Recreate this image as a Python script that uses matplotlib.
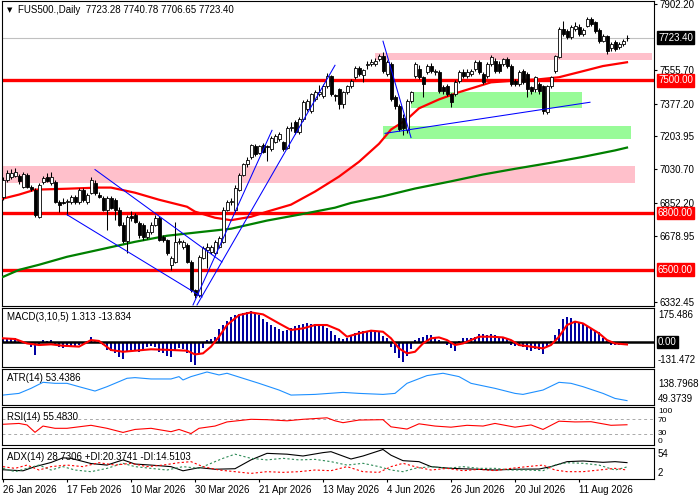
import numpy as np
import matplotlib.pyplot as plt
from matplotlib.patches import Rectangle

plt.rcParams['font.family'] = ['Liberation Sans', 'DejaVu Sans']
plt.rcParams['font.size'] = 7

# daily candles, bar 0 = 26 Jan 2026
opens = [6886, 6976, 6992, 6997, 6997, 6939, 7003, 6939, 6923, 6781,
         6966, 6992, 6960, 6966, 6860, 6860, 6857, 6860, 6886, 6860,
         6923, 6860, 6907, 6960, 6897, 6881, 6818, 6881, 6870, 6818,
         6738, 6650, 6786, 6791, 6749, 6738, 6675, 6701, 6738, 6775,
         6675, 6659, 6527, 6543, 6648, 6622, 6632, 6543, 6394, 6368,
         6563, 6606, 6595, 6590, 6622, 6648, 6818, 6860, 6815, 6923,
         7003, 7056, 7093, 7151, 7119, 7161, 7151, 7135, 7177, 7188,
         7172, 7145, 7246, 7278, 7225, 7294, 7347, 7336, 7399, 7426,
         7415, 7468, 7521, 7421, 7452, 7373, 7437, 7468, 7516, 7563,
         7527, 7580, 7585, 7585, 7611, 7627, 7532, 7585, 7410, 7363,
         7300, 7240, 7389, 7521, 7558, 7516, 7543, 7574, 7543, 7543,
         7463, 7468, 7426, 7426, 7495, 7543, 7521, 7532, 7558, 7595,
         7532, 7521, 7585, 7601, 7585, 7585, 7611, 7574, 7495, 7479,
         7548, 7532, 7463, 7452, 7479, 7468, 7331, 7468, 7548, 7622,
         7770, 7759, 7727, 7770, 7780, 7743, 7786, 7823, 7807, 7764,
         7706, 7733, 7669, 7700, 7675, 7690, 7723.28]
highs = [6990, 7025, 7030, 7035, 7008, 7015, 7010, 6950, 6930, 6960,
         6995, 7010, 7015, 6975, 6870, 6880, 6875, 6895, 6895, 6930,
         6930, 6905, 6990, 6975, 6910, 6890, 6890, 6890, 6880, 6830,
         6750, 6790, 6810, 6800, 6760, 6745, 6715, 6750, 6790, 6785,
         6685, 6665, 6575, 6750, 6670, 6660, 6640, 6550, 6400, 6580,
         6625, 6640, 6630, 6660, 6680, 6830, 6870, 6880, 6945, 7010,
         7065, 7095, 7165, 7165, 7160, 7170, 7160, 7205, 7215, 7225,
         7180, 7260, 7280, 7290, 7305, 7395, 7400, 7435, 7450, 7475,
         7480, 7540, 7530, 7430, 7460, 7445, 7475, 7505, 7575, 7575,
         7560, 7600, 7610, 7615, 7640, 7650, 7605, 7595, 7420, 7375,
         7320, 7400, 7445, 7595, 7580, 7525, 7585, 7590, 7560, 7555,
         7475, 7480, 7435, 7500, 7555, 7560, 7560, 7560, 7605, 7605,
         7545, 7595, 7635, 7615, 7600, 7620, 7625, 7585, 7505, 7555,
         7560, 7545, 7470, 7525, 7490, 7475, 7475, 7525, 7635, 7780,
         7812, 7770, 7790, 7805, 7795, 7775, 7835, 7835, 7815, 7775,
         7745, 7740, 7700, 7710, 7700, 7715, 7740.78]
lows = [6870, 6965, 6980, 6988, 6955, 6930, 6930, 6915, 6780, 6775,
        6955, 6965, 6950, 6855, 6807, 6845, 6791, 6850, 6850, 6850,
        6860, 6850, 6900, 6895, 6880, 6810, 6712, 6820, 6765, 6730,
        6640, 6590, 6760, 6745, 6670, 6660, 6665, 6690, 6730, 6650,
        6645, 6580, 6500, 6535, 6635, 6610, 6535, 6385, 6352, 6355,
        6555, 6510, 6585, 6580, 6615, 6640, 6810, 6840, 6805, 6915,
        6995, 7045, 7085, 7100, 7110, 7115, 7072, 7125, 7170, 7180,
        7125, 7135, 7235, 7215, 7215, 7285, 7340, 7325, 7390, 7415,
        7405, 7460, 7415, 7390, 7350, 7355, 7430, 7460, 7505, 7520,
        7490, 7560, 7575, 7575, 7600, 7540, 7520, 7390, 7350, 7230,
        7209, 7220, 7380, 7510, 7505, 7410, 7535, 7540, 7530, 7435,
        7430, 7415, 7357, 7415, 7485, 7510, 7510, 7520, 7550, 7535,
        7480, 7510, 7575, 7540, 7540, 7575, 7565, 7470, 7470, 7470,
        7480, 7410, 7430, 7440, 7430, 7320, 7320, 7460, 7540, 7615,
        7735, 7715, 7720, 7760, 7735, 7735, 7780, 7785, 7750, 7695,
        7700, 7640, 7655, 7655, 7665, 7680, 7706.65]
closes = [6976, 7013, 7013, 7018, 6971, 7008, 6939, 6928, 6791, 6950,
          6987, 6971, 6992, 6860, 6844, 6854, 6862, 6886, 6860, 6923,
          6870, 6897, 6976, 6907, 6886, 6818, 6881, 6828, 6818, 6738,
          6650, 6780, 6775, 6754, 6685, 6675, 6701, 6738, 6775, 6659,
          6659, 6590, 6563, 6648, 6653, 6648, 6543, 6394, 6368, 6569,
          6616, 6622, 6622, 6648, 6670, 6818, 6860, 6865, 6934, 7003,
          7056, 7082, 7156, 7109, 7151, 7124, 7146, 7198, 7204, 7214,
          7135, 7246, 7251, 7225, 7294, 7384, 7389, 7426, 7437, 7437,
          7468, 7521, 7426, 7415, 7373, 7437, 7468, 7495, 7563, 7532,
          7553, 7585, 7595, 7601, 7627, 7548, 7595, 7399, 7363, 7241,
          7250, 7389, 7437, 7585, 7516, 7479, 7574, 7548, 7548, 7442,
          7442, 7426, 7384, 7489, 7543, 7521, 7543, 7548, 7595, 7543,
          7489, 7585, 7622, 7548, 7548, 7611, 7574, 7479, 7479, 7543,
          7489, 7452, 7442, 7516, 7442, 7336, 7468, 7516, 7627, 7770,
          7743, 7727, 7780, 7786, 7743, 7764, 7823, 7796, 7759, 7706,
          7733, 7653, 7690, 7664, 7690, 7706, 7723.40]

date_bars = [0, 16, 32, 48, 64, 80, 96, 112, 128, 144]
date_labels = ['26 Jan 2026', '17 Feb 2026', '10 Mar 2026', '30 Mar 2026',
               '21 Apr 2026', '13 May 2026', '4 Jun 2026', '26 Jun 2026',
               '20 Jul 2026', '11 Aug 2026']

price_ticks = [7902.20, 7555.70, 7377.20, 7203.95, 7030.70, 6852.20, 6678.95, 6332.45]
levels = [7500.00, 6800.00, 6500.00]

# (bar from, bar to, price low, price high)
pink_zones = [(93, 162.25, 7606, 7643), (-0.25, 158, 6960, 7050)]
green_zones = [(102, 144.75, 7352, 7437), (95, 157, 7188, 7257)]
# ((bar, price), (bar, price))
trend_lines = [((47.5, 6315), (67.25, 7236)),
               ((48.5, 6315), (83, 7579)),
               ((23, 7029), (54.75, 6542)),
               ((16, 6791), (49.75, 6357)),
               ((95, 7706), (102, 7198)),
               ((95.5, 7220), (146.75, 7384))]

red_ma_bars = [0, 4, 8, 16, 24, 27, 33, 39, 46, 48, 53, 57, 62, 66, 72, 78, 84, 89, 94, 97,
               101, 104, 109, 114, 122, 129, 134, 139, 145, 150, 156]
red_ma_vals = [6876, 6897, 6923, 6928, 6934, 6934, 6907, 6870, 6833, 6807,
               6775, 6762, 6780, 6807, 6844, 6913, 6992, 7070, 7165, 7240,
               7294, 7352, 7399, 7437, 7489, 7500, 7505, 7516, 7548, 7575, 7595]
green_ma_bars = [0, 4, 9, 16, 24, 33, 41, 50, 57, 66, 74, 83, 87, 95, 103, 112, 120, 128,
                 137, 145, 153, 156]
green_ma_vals = [6463, 6500, 6527, 6569, 6606, 6648, 6680, 6701, 6717, 6760, 6791,
                 6828, 6853, 6888, 6929, 6967, 7003, 7033, 7065, 7096, 7130, 7145]

macd_hist = [15, 25, 20, 22, 12, 8, -10, -30, -75, -20,
             10, 8, 12, -15, -30, -35, -30, -22, -28, -15,
             -12, 5, 28, 12, 6, -15, -45, -50, -60, -85,
             -95, -55, -45, -50, -55, -45, -30, -25, -30, -55,
             -60, -80, -85, -45, -35, -40, -60, -110, -131.472, -70,
             -35, 10, 18, 30, 75, 95, 120, 140, 155, 160,
             165, 170, 175.486, 165, 150, 130, 115, 95, 85, 75,
             65, 70, 80, 90, 95, 100, 105, 100, 100, 95,
             90, 80, 60, 40, 25, 15, 25, 35, 50, 60,
             65, 65, 65, 60, 55, 35, 25, -30, -60, -90,
             -115, -80, -40, 10, 25, 30, 40, 40, 30, 10,
             -5, -15, -35, -50, 5, 20, 25, 25, 30, 45,
             45, 40, 45, 40, 30, 25, 20, -15, -25, -20,
             -30, -45, -50, -40, -45, -65, -20, 5, 40, 75,
             130, 140, 135, 120, 110, 100, 90, 80, 65, 55,
             25, 10, -15, -18, -15, -12, 1.313]
sig_bars = [0, 3, 6, 9, 12, 15, 19, 22, 24, 27, 30, 33, 37, 42, 46, 48, 50, 52, 54, 56,
            59, 62, 65, 69, 72, 75, 78, 81, 84, 86, 89, 92, 95, 97, 99, 101, 103, 105, 107, 109,
            111, 113, 115, 117, 119, 122, 125, 127, 129, 132, 135, 137, 139, 141, 143, 145, 147,
            149, 151, 153, 156]
sig_vals = [21, 17, -8, -17, -13, -21, -26, 11, 6, -45, -55, -49, -41, -45, -49, -70, -64, -26, 30, 96,
            152, 167, 156, 105, 68, 77, 96, 96, 68, 30, 49, 64, 58, 21, -36, -64, -55, -8, 21, 26,
            11, -17, -8, 11, 30, 30, 26, 11, -17, -26, -36, -17, 30, 96, 115, 105, 77,
            49, 11, -8, -13.834]

atr_bars = [0, 4, 7, 10, 13, 16, 19, 23, 26, 31, 33, 37, 42, 44, 45, 47, 51, 54, 56, 60,
            64, 69, 72, 78, 85, 89, 95, 98, 101, 106, 110, 114, 117, 123, 128, 130, 135, 139,
            142, 145, 150, 153, 156]
atr_vals = [70, 75, 90, 108, 105, 105, 95, 82, 95, 120, 122, 118, 118, 125, 115, 125, 138.7968, 130,
            135, 120, 105, 85, 70, 72, 78, 75, 72, 75, 105, 128, 135, 125, 105, 90, 75, 72, 85, 108,
            105, 95, 75, 60, 53.4386]

rsi_bars = [0, 4, 6, 8, 10, 13, 16, 19, 22, 26, 30, 33, 37, 42, 44, 47, 49, 53, 56, 62, 66, 71,
            75, 81, 83, 85, 89, 95, 97, 101, 104, 108, 112, 116, 120, 123, 128, 132, 135, 139,
            143, 147, 152, 156]
rsi_vals = [56.7, 59, 55, 35.3, 52, 46, 46, 50, 54, 46, 35, 43, 46, 37, 43, 32, 46, 52, 63, 70, 69, 66,
            70, 74, 66, 61, 68, 69, 50, 44, 58, 52, 49, 54, 52, 59, 49, 55, 43, 65,
            63, 63.6, 54, 55.4830]

adx_bars = [0, 5, 8, 12, 15, 17, 22, 26, 30, 33, 37, 42, 45, 49, 53, 58, 62, 66, 71, 75,
            80, 82, 87, 90, 95, 97, 100, 104, 107, 112, 117, 123, 128, 134, 137, 141, 145, 150,
            153, 156]
adx_vals = [15, 13, 21, 29, 38, 37, 27, 24, 34, 26, 24, 21, 13, 19, 16, 17, 34, 46.6, 45, 41.5,
            48, 49.8, 35.7, 41.5, 54, 43, 32.5, 30.6, 21, 17.7, 16.4, 14.5, 16, 16.4, 21, 30.6,
            31.9, 29.3, 30.6, 28.7306]
pdi_bars = [0, 3, 6, 9, 12, 15, 18, 22, 26, 30, 33, 37, 41, 45, 49, 52, 55, 58, 62, 66,
            70, 74, 78, 82, 86, 90, 94, 97, 100, 103, 107, 111, 115, 119, 123, 127, 131, 135,
            138, 141, 145, 149, 153, 156]
pdi_vals = [17.7, 11.3, 17.7, 24, 14.5, 21, 14.5, 11.3, 17.7, 27.4, 21, 17.7, 14.5, 21, 17.7, 27.4,
            37, 45, 37, 34, 37, 34, 35, 30.6, 24, 27.4, 21, 14.5, 11.3, 17.7, 21, 17.7, 21, 17.7,
            17.7, 14.5, 14.5, 13.2, 24, 28.6, 27.4, 24, 14.5, 20.3741]
ndi_bars = [0, 3, 6, 9, 12, 16, 20, 24, 28, 32, 36, 40, 44, 47, 50, 54, 58, 62, 66, 70,
            74, 78, 82, 86, 90, 94, 97, 100, 103, 107, 111, 115, 119, 123, 127, 131, 135, 138,
            141, 145, 149, 153, 156]
ndi_vals = [21, 17.7, 24, 14.5, 21, 24, 21, 28.6, 24, 27.4, 21, 24, 28.6, 30.6, 21, 14.5, 11.3, 8,
            11.3, 10, 11.3, 14.5, 13.2, 21, 11.3, 10, 21, 27.4, 21, 14.5, 17.7, 13.2, 15.8, 13.2,
            17.7, 21, 24, 14.5, 11.3, 11.3, 14.5, 17.7, 14.5103]

W, H = 700, 500
fig = plt.figure(figsize=(W / 100, H / 100), dpi=100)


def panel(top, bottom):
    a = fig.add_axes([2 / W, 1 - bottom / H, 652 / W, (bottom - top) / H])
    a.set_xlim(-0.25, 162.75)
    for s in a.spines.values():
        s.set_linewidth(0.8)
    a.set_xticks([])
    a.set_yticks([])
    return a


def side_label(a, value, text, dy=0, box=None, size=7):
    kw = dict(xy=(1, value), xycoords=('axes fraction', 'data'),
              xytext=(4, dy), textcoords='offset pixels',
              ha='left', va='center', fontsize=size, annotation_clip=False)
    if box:
        kw['color'] = 'white'
        kw['bbox'] = dict(boxstyle='square,pad=0.15', fc=box, ec=box)
    a.annotate(text, **kw)


def panel_title(a, text, dy=-4):
    a.annotate(text, xy=(0, 1), xycoords='axes fraction', xytext=(5, dy),
               textcoords='offset pixels', ha='left', va='top', fontsize=7)


# main price panel
ax = panel(1, 306)
ax.set_ylim(6309.5, 7918)

for x0, x1, p0, p1 in pink_zones:
    ax.add_patch(Rectangle((x0, p0), x1 - x0, p1 - p0, fc='#FFC0CB', ec='none', zorder=0.5))
for x0, x1, p0, p1 in green_zones:
    ax.add_patch(Rectangle((x0, p0), x1 - x0, p1 - p0, fc='#98FB98', ec='none', zorder=0.5))

ax.axhline(closes[-1], color='#C0C0C0', lw=0.8, zorder=1)
for lv in levels:
    ax.axhline(lv, color='#FF0000', lw=2.4, zorder=2)

ax.plot(red_ma_bars, red_ma_vals, color='#FF0000', lw=1.6, zorder=3)
ax.plot(green_ma_bars, green_ma_vals, color='#008000', lw=1.6, zorder=3)

o = np.array(opens)
h = np.array(highs)
l = np.array(lows)
c = np.array(closes)
x = np.arange(len(c))
up = c >= o
ax.vlines(x, l, h, color='black', lw=0.75, zorder=4)
ax.bar(x, np.maximum(np.abs(c - o), 2), bottom=np.minimum(o, c), width=0.75,
       color=np.where(up, 'white', 'black'), edgecolor='black', linewidth=0.6, zorder=5)

for (b0, p0), (b1, p1) in trend_lines:
    ax.plot([b0, b1], [p0, p1], color='#0000FF', lw=0.75, zorder=6)

ax.yaxis.tick_right()
ax.set_yticks(price_ticks)
ax.set_yticklabels([f'{v:.2f}' for v in price_ticks])
ax.tick_params(axis='y', length=2.2, width=0.8, pad=2, labelsize=7)
side_label(ax, closes[-1], f'{closes[-1]:.2f}', box='black')
for lv in levels:
    side_label(ax, lv, f'{lv:.2f}', box='#FF0000')

fig.text(7 / W, 1 - 10 / H, '▼', fontsize=5, va='center', family=['DejaVu Sans'])
fig.text(18 / W, 1 - 10 / H,
         f'FUS500.,Daily  {opens[-1]:.2f} {highs[-1]:.2f} {lows[-1]:.2f} {closes[-1]:.2f}',
         fontsize=7, va='center')

# MACD
axm = panel(308, 367)
axm.set_ylim(-141, 192)
axm.bar(x, macd_hist, width=0.5, color='#0000A0', zorder=2)
axm.axhline(0, color='black', lw=1.8, zorder=3)
axm.plot(sig_bars, sig_vals, color='#FF0000', lw=1.5, zorder=4)
panel_title(axm, f'MACD(3,10,5) {macd_hist[-1]:.3f} {sig_vals[-1]:.3f}')
side_label(axm, max(macd_hist), f'{max(macd_hist):.3f}', dy=-4)
side_label(axm, 0, '0.00', box='black')
side_label(axm, min(macd_hist), f'{min(macd_hist):.3f}', dy=5)

# ATR
axa = panel(369, 405)
axa.set_ylim(40.4, 147.7)
axa.plot(atr_bars, atr_vals, color='#1E90FF', lw=0.8)
panel_title(axa, f'ATR(14) {atr_vals[-1]:.4f}')
side_label(axa, 138.7968, '138.7968', dy=-12)
side_label(axa, 49.3739, '49.3739', dy=3)

# RSI
axr = panel(407, 445)
axr.set_ylim(1.5, 102.8)
for lv in (70, 30):
    axr.axhline(lv, color='#A9A9A9', lw=0.7, ls=(0, (3, 3)))
axr.plot(rsi_bars, rsi_vals, color='#FF0000', lw=0.8)
panel_title(axr, f'RSI(14) {rsi_vals[-1]:.4f}', dy=-5)
side_label(axr, 100, '100', dy=-3, size=6)
side_label(axr, 70, '70', dy=-1, size=6)
side_label(axr, 30, '30', dy=1, size=6)
side_label(axr, 0, '0', dy=4, size=6)

# ADX
axd = panel(448, 479)
axd.set_ylim(-2.8, 56.9)
axd.plot(adx_bars, adx_vals, color='black', lw=0.8)
axd.plot(pdi_bars, pdi_vals, color='#2E8B57', lw=0.8, ls=(0, (2, 2)))
axd.plot(ndi_bars, ndi_vals, color='#FF0000', lw=0.8, ls=(0, (2, 2)))
panel_title(axd, f'ADX(14) {adx_vals[-1]:.4f} +DI:{pdi_vals[-1]:.4f} -DI:{ndi_vals[-1]:.4f}')
side_label(axd, 54, '54', dy=-4)
side_label(axd, 2, '2', dy=4)
axd.set_xticks(date_bars)
axd.set_xticklabels(date_labels, ha='left')
axd.tick_params(axis='x', length=2.5, width=0.8, pad=1.5, labelsize=7)

fig.savefig('out.png', dpi=100)
